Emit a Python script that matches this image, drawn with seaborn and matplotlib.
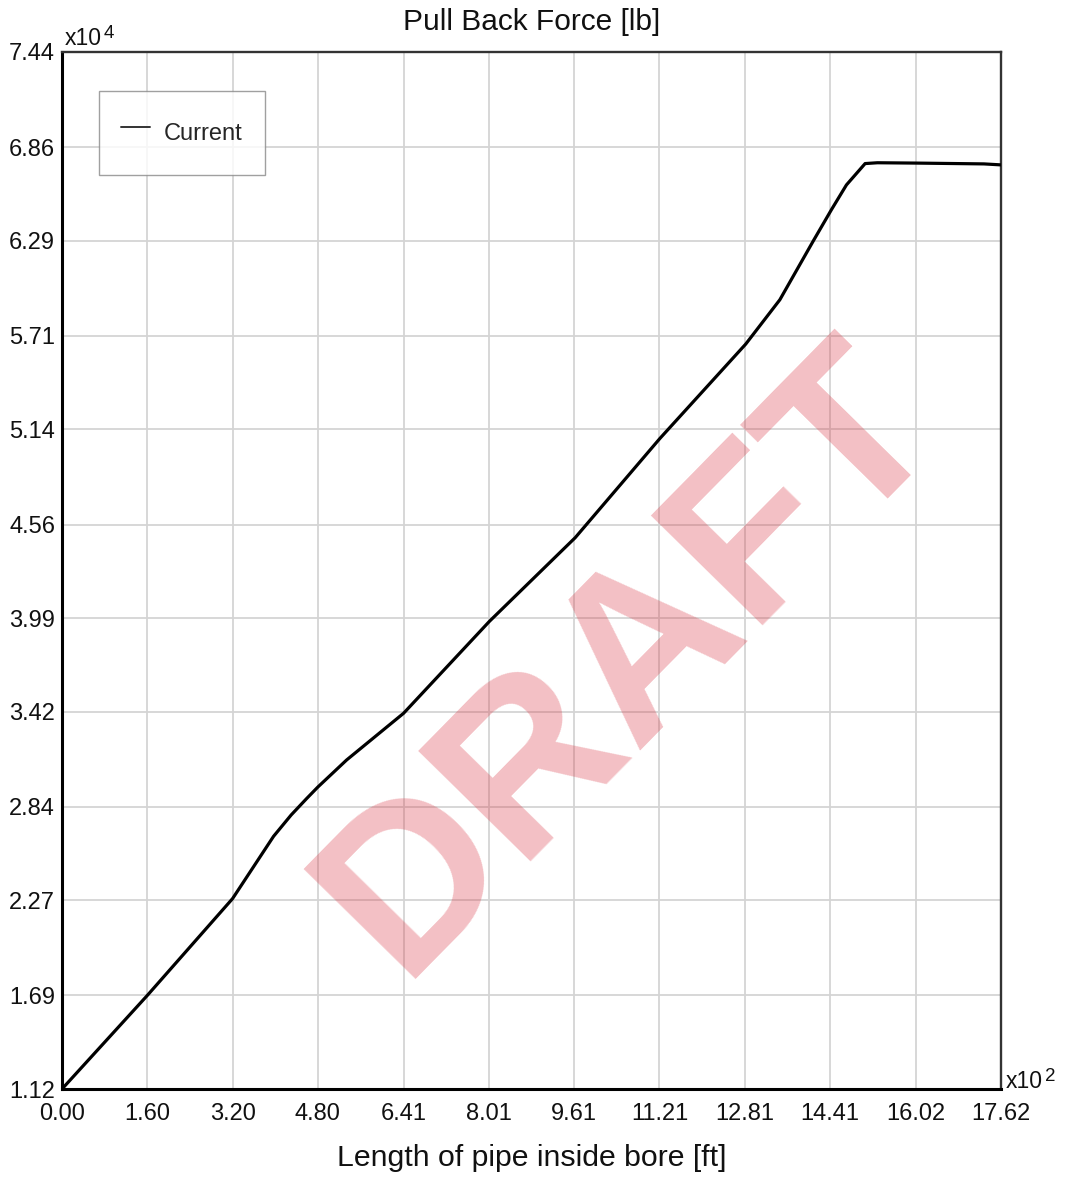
import matplotlib
matplotlib.use("Agg")
import matplotlib.pyplot as plt
import seaborn as sns
import pandas as pd

# ---- data (x in 10^2 ft, y in 10^4 lb) ----
length_x100ft = [0.00, 1.60, 3.20, 3.97, 4.30, 4.59, 4.80, 5.34, 6.41, 8.02,
                 9.63, 11.22, 12.83, 13.47, 14.10, 14.44, 14.72, 15.07,
                 15.30, 16.02, 17.30, 17.62]
force_x1e4lb = [1.12, 1.69, 2.28, 2.66, 2.79, 2.89, 2.96, 3.125, 3.41, 3.97,
                4.48, 5.085, 5.66, 5.93, 6.29, 6.48, 6.63, 6.76,
                6.765, 6.763, 6.758, 6.752]
series_name = "Current"
x_tick_labels = ["0.00", "1.60", "3.20", "4.80", "6.41", "8.01", "9.61",
                 "11.21", "12.81", "14.41", "16.02", "17.62"]
y_tick_labels = ["1.12", "1.69", "2.27", "2.84", "3.42", "3.99", "4.56",
                 "5.14", "5.71", "6.29", "6.86", "7.44"]
title_text = "Pull Back Force [lb]"
xlabel_text = "Length of pipe inside bore [ft]"
watermark_text = "DRAFT"

df = pd.DataFrame({"x": length_x100ft, "y": force_x1e4lb})

sns.set_theme(style="white")
plt.rcParams["font.family"] = ["Liberation Sans", "DejaVu Sans"]

W, H = 1066, 1177
fig = plt.figure(figsize=(W / 100, H / 100), dpi=100)
L, R, T, B = 62, 1001, 52, 1089
ax = fig.add_axes([L / W, 1 - B / H, (R - L) / W, (B - T) / H])

sns.lineplot(data=df, x="x", y="y", ax=ax, color="black", linewidth=2.3,
             label=series_name, estimator=None, sort=False, zorder=3)
ax.lines[0].set_solid_joinstyle("round")

xt = [float(s) for s in x_tick_labels]
yt = [float(s) for s in y_tick_labels]
ax.set_xlim(xt[0], xt[-1])
ax.set_ylim(yt[0], yt[-1])
ax.set_xticks(xt)
ax.set_xticklabels(x_tick_labels)
ax.set_yticks(yt)
ax.set_yticklabels(y_tick_labels)
ax.tick_params(axis="x", length=0, pad=10, labelsize=17, colors="#111111")
ax.tick_params(axis="y", length=0, pad=5.0, labelsize=17, colors="#111111")
ax.grid(True, color="#d4d4d4", linewidth=1.3, zorder=0)
ax.set_axisbelow(True)

for side in ["left", "bottom"]:
    ax.spines[side].set_color("black")
    ax.spines[side].set_linewidth(2.2)
for side in ["top", "right"]:
    ax.spines[side].set_color("#333333")
    ax.spines[side].set_linewidth(1.7)

ax.set_title(title_text, fontsize=21.5, pad=16, color="#111111")
ax.set_xlabel(xlabel_text, fontsize=21.8, labelpad=14, color="#111111")
ax.set_ylabel("")

leg = ax.legend(loc="upper left",
                bbox_to_anchor=((99 - L) / (R - L), (B - 91) / (B - T)),
                borderaxespad=0, fontsize=17, frameon=True, fancybox=False,
                borderpad=0.95, handlelength=1.2, handletextpad=0.6,
                handleheight=2.15)
leg.get_frame().set_edgecolor("#888888")
leg.get_frame().set_linewidth(1.0)
for h in leg.get_lines():
    h.set_linewidth(1.4)
    h.set_color("#333333")

# DRAFT watermark
ax.text((673 - L) / (R - L), (B - 702) / (B - T), watermark_text,
        transform=ax.transAxes, rotation=45.5, rotation_mode="anchor",
        ha="center", va="baseline", fontsize=165, fontweight="bold",
        family="Liberation Sans", color=(0.86, 0.25, 0.30), alpha=0.33,
        zorder=2)

# axis multipliers
def ftext(xp, yp, s, **kw):
    fig.text(xp / W, 1 - yp / H, s, **kw)

ftext(65, 45, "x10", fontsize=16.5, ha="left", va="baseline", color="#111111")
ftext(104, 38, "4", fontsize=13.5, ha="left", va="baseline", color="#111111")
ftext(1006, 1088, "x10", fontsize=16.5, ha="left", va="baseline", color="#111111")
ftext(1045, 1081, "2", fontsize=13.5, ha="left", va="baseline", color="#111111")

fig.savefig("out.png", dpi=100)
